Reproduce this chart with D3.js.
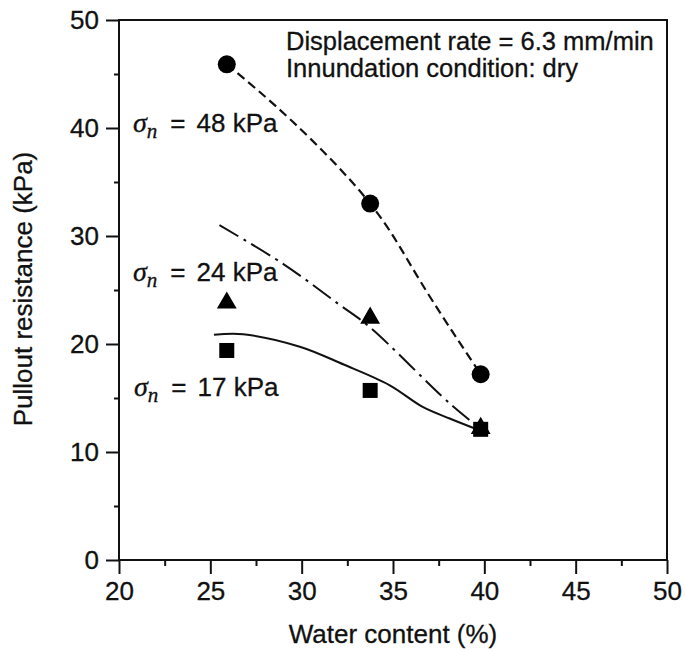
<!DOCTYPE html>
<html>
<head>
<meta charset="utf-8">
<script src="https://cdn.jsdelivr.net/npm/d3@7"></script>
<style>
  body { margin: 0; background: #fff; }
  svg { display: block; }
</style>
</head>
<body>
<div id="chart"></div>
<script>
// values
const xTicks = [20, 25, 30, 35, 40, 45, 50];
const xMinor = [22.5, 27.5, 32.5, 37.5, 42.5, 47.5];
const yTicks = [0, 10, 20, 30, 40, 50];
const yMinor = [5, 15, 25, 35, 45];

const water = [25.9, 33.75, 39.8];
const p48 = [45.9, 33.0, 17.2];
const p24 = [23.9, 22.5, 12.3];
const p17 = [19.4, 15.7, 12.1];

// fitted trend curves, sampled from the figure
const fit48 = [[25.9, 45.9], [29.5, 40.6], [33.75, 33.0], [36.5, 25.8], [39.8, 17.2]];
const fit24 = [[25.5, 31.0], [29.0, 27.4], [32.1, 23.6], [33.7, 21.6], [38.1, 14.5], [39.75, 12.2]];
const fit17 = [[25.2, 20.85], [26.8, 20.9], [29.9, 19.75], [32.3, 18.1], [34.8, 16.2], [36.6, 14.2], [38.1, 13.1], [39.75, 12.0]];

const width = 685, height = 652;
const font = "'Liberation Sans', Arial, Helvetica, sans-serif";

const x = d3.scaleLinear().domain([20, 50]).range([119, 667]);
const y = d3.scaleLinear().domain([0, 50]).range([560, 20]);

const svg = d3.select("#chart").append("svg")
  .attr("width", width)
  .attr("height", height)
  .style("font-family", font);

// axes
svg.append("g")
  .attr("transform", `translate(0,${y(0)})`)
  .call(d3.axisBottom(x).tickValues(xTicks).tickSize(14).tickPadding(8).tickFormat(d3.format("d")));
svg.append("g")
  .attr("transform", `translate(0,${y(0)})`)
  .call(d3.axisBottom(x).tickValues(xMinor).tickSize(6).tickFormat(""));

svg.append("g")
  .attr("transform", `translate(${x(20)},0)`)
  .call(d3.axisLeft(y).tickValues(yTicks).tickSize(13).tickPadding(7).tickFormat(d3.format("d")));
svg.append("g")
  .attr("transform", `translate(${x(20)},0)`)
  .call(d3.axisLeft(y).tickValues(yMinor).tickSize(5).tickFormat(""));

svg.selectAll(".domain").remove();
svg.selectAll(".tick line").attr("stroke", "#111").attr("stroke-width", 2);
svg.selectAll(".tick text")
  .attr("fill", "#111")
  .attr("stroke", "#111").attr("stroke-width", 0.3)
  .style("font-size", "26px");

// frame
svg.append("rect")
  .attr("x", x(20)).attr("y", y(50))
  .attr("width", x(50) - x(20)).attr("height", y(0) - y(50))
  .attr("fill", "none").attr("stroke", "#111").attr("stroke-width", 2);

// axis titles
svg.append("text")
  .attr("x", (x(20) + x(50)) / 2)
  .attr("y", 643)
  .attr("text-anchor", "middle")
  .style("font-size", "26px")
  .attr("fill", "#111").attr("stroke", "#111").attr("stroke-width", 0.3)
  .text("Water content (%)");

svg.append("text")
  .attr("transform", "rotate(-90)")
  .attr("x", -289)
  .attr("y", 32)
  .attr("text-anchor", "middle")
  .style("font-size", "26px")
  .attr("fill", "#111").attr("stroke", "#111").attr("stroke-width", 0.3)
  .text("Pullout resistance (kPa)");

// trend curves
const smooth = d3.line()
  .x(d => x(d[0]))
  .y(d => y(d[1]))
  .curve(d3.curveNatural);
const line = d3.line()
  .x(d => x(d[0]))
  .y(d => y(d[1]))
  .curve(d3.curveCatmullRom);

svg.append("path").attr("d", smooth(fit48))
  .attr("fill", "none").attr("stroke", "#111").attr("stroke-width", 2.2)
  .attr("stroke-dasharray", "9,5");
svg.append("path").attr("d", line(fit24))
  .attr("fill", "none").attr("stroke", "#111").attr("stroke-width", 2)
  .attr("stroke-dasharray", "22,6,3,6");
svg.append("path").attr("d", line(fit17))
  .attr("fill", "none").attr("stroke", "#111").attr("stroke-width", 2);

// markers
svg.selectAll(".circ").data(water).enter().append("circle")
  .attr("cx", d => x(d))
  .attr("cy", (d, i) => y(p48[i]))
  .attr("r", 9)
  .attr("fill", "#000");

const tri = d3.symbol().type(d3.symbolTriangle).size(170);
svg.selectAll(".tri").data(water).enter().append("path")
  .attr("d", tri)
  .attr("transform", (d, i) => `translate(${x(d)},${y(p24[i]) + 1})`)
  .attr("fill", "#000");

const sq = 15;
svg.selectAll(".sq").data(water).enter().append("rect")
  .attr("x", d => x(d) - sq / 2)
  .attr("y", (d, i) => y(p17[i]) - sq / 2)
  .attr("width", sq).attr("height", sq)
  .attr("fill", "#000");

// annotations
const notes = [
  { label: "48 kPa", x: 133, y: 132 },
  { label: "24 kPa", x: 133, y: 281 },
  { label: "17 kPa", x: 134, y: 396 }
];
const serif = "'Liberation Serif', 'Times New Roman', serif";
notes.forEach(n => {
  const t = svg.append("text")
    .attr("x", n.x).attr("y", n.y)
    .style("font-size", "26px")
    .attr("fill", "#111").attr("stroke", "#111").attr("stroke-width", 0.3);
  t.append("tspan")
    .style("font-family", serif)
    .style("font-style", "italic")
    .style("font-size", "28px")
    .text("σ");
  t.append("tspan")
    .attr("dy", 6)
    .style("font-family", serif)
    .style("font-style", "italic")
    .style("font-size", "21px")
    .text("n");
  t.append("tspan")
    .attr("dy", -6)
    .attr("dx", 13)
    .text("=");
  t.append("tspan")
    .attr("dx", 11)
    .text(n.label);
});

svg.append("text")
  .attr("x", 286).attr("y", 50)
  .style("font-size", "25.5px")
  .attr("fill", "#111").attr("stroke", "#111").attr("stroke-width", 0.3)
  .text("Displacement rate = 6.3 mm/min");
svg.append("text")
  .attr("x", 286).attr("y", 77)
  .style("font-size", "25.5px")
  .attr("fill", "#111").attr("stroke", "#111").attr("stroke-width", 0.3)
  .text("Innundation condition: dry");
</script>
</body>
</html>
